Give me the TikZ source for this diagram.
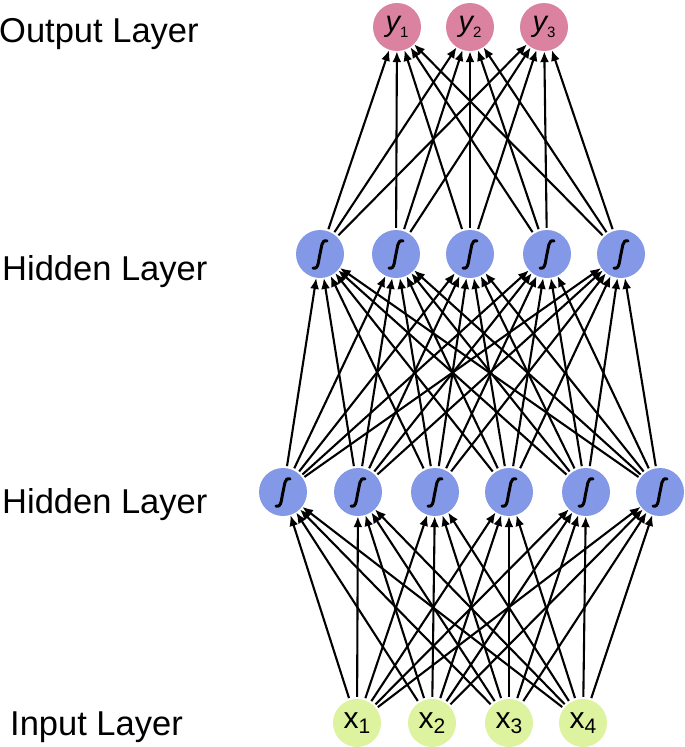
\documentclass[tikz,border=0pt]{standalone}
\usepackage{fontspec}
\setmainfont{Liberation Sans}
\usetikzlibrary{arrows.meta}
\definecolor{outpink}{RGB}{218,130,160}
\definecolor{hidblue}{RGB}{131,152,230}
\definecolor{ingreen}{RGB}{222,243,160}
\newcommand{\ylab}[1]{{\fontsize{29}{30}\selectfont\itshape y}\raisebox{-6pt}{\fontsize{15}{16}\selectfont #1}}
\newcommand{\xlab}[1]{{\fontsize{30}{32}\selectfont x}\raisebox{-5pt}{\fontsize{21}{22}\selectfont #1}}
\tikzset{
    neuron/.style = {
        circle,
        minimum size=48pt,
        inner sep=0pt,
        },
    output neuron/.style = {
        neuron,
        fill = outpink,
        },
    hidden neuron/.style = {
        neuron,
        fill = hidblue,
        },
    input neuron/.style = {
        neuron,
        fill = ingreen,
        },
    layer label/.style = {
        anchor=base west,
        inner sep=0pt,
        font=\fontsize{34.5}{40}\selectfont,
        },
    synapse/.style = {
        -{Latex[length=11pt,width=9pt]},
        line width=2.1pt,
        shorten <=2pt,
        },
    sigmoid/.pic = {
        \draw[line width=3pt, line cap=round] (-7,14) .. controls (-1,16) and (-1.5,5) .. (0,0)
            .. controls (1.5,-5) and (1,-15) .. (7,-13);
        },
}

\begin{document}
\begin{tikzpicture}[x=1pt, y=-1pt]
        \useasboundingbox (0,0) rectangle (685,747);

        % layer names
        \node [layer label] (lout) at (-1,42) {Output Layer};
        \node [layer label] (lhB) at (2,280) {Hidden Layer};
        \node [layer label] (lhA) at (2,513) {Hidden Layer};
        \node [layer label] (lin) at (10,735) {Input Layer};

        % output layer
        \node [output neuron] (out1) at (397,27) {\ylab{1}};
        \node [output neuron] (out2) at (470,27) {\ylab{2}};
        \node [output neuron] (out3) at (544,27) {\ylab{3}};

        % second hidden layer
        \node [hidden neuron] (hB1) at (320,254) {};
        \node [hidden neuron] (hB2) at (396,254) {};
        \node [hidden neuron] (hB3) at (470,254) {};
        \node [hidden neuron] (hB4) at (547,254) {};
        \node [hidden neuron] (hB5) at (621,254) {};

        % first hidden layer
        \node [hidden neuron] (hA1) at (283,492) {};
        \node [hidden neuron] (hA2) at (358,492) {};
        \node [hidden neuron] (hA3) at (435,492) {};
        \node [hidden neuron] (hA4) at (509,492) {};
        \node [hidden neuron] (hA5) at (586,492) {};
        \node [hidden neuron] (hA6) at (660,492) {};

        % input layer
        \node [input neuron] (in1) at (357,723) {\xlab{1}};
        \node [input neuron] (in2) at (432,723) {\xlab{2}};
        \node [input neuron] (in3) at (509,723) {\xlab{3}};
        \node [input neuron] (in4) at (583,723) {\xlab{4}};

        \foreach \n in {hA1,hA2,hA3,hA4,hA5,hA6,hB1,hB2,hB3,hB4,hB5}
            \path (\n) pic {sigmoid};

        % connections
        \foreach \i in {1,...,4}
            \foreach \j in {1,...,6}
                \draw [synapse] (in\i) -- (hA\j);
        \foreach \i in {1,...,6}
            \foreach \j in {1,...,5}
                \draw [synapse] (hA\i) -- (hB\j);
        \foreach \i in {1,...,5}
            \foreach \j in {1,...,3}
                \draw [synapse] (hB\i) -- (out\j);

\end{tikzpicture}
\end{document}
